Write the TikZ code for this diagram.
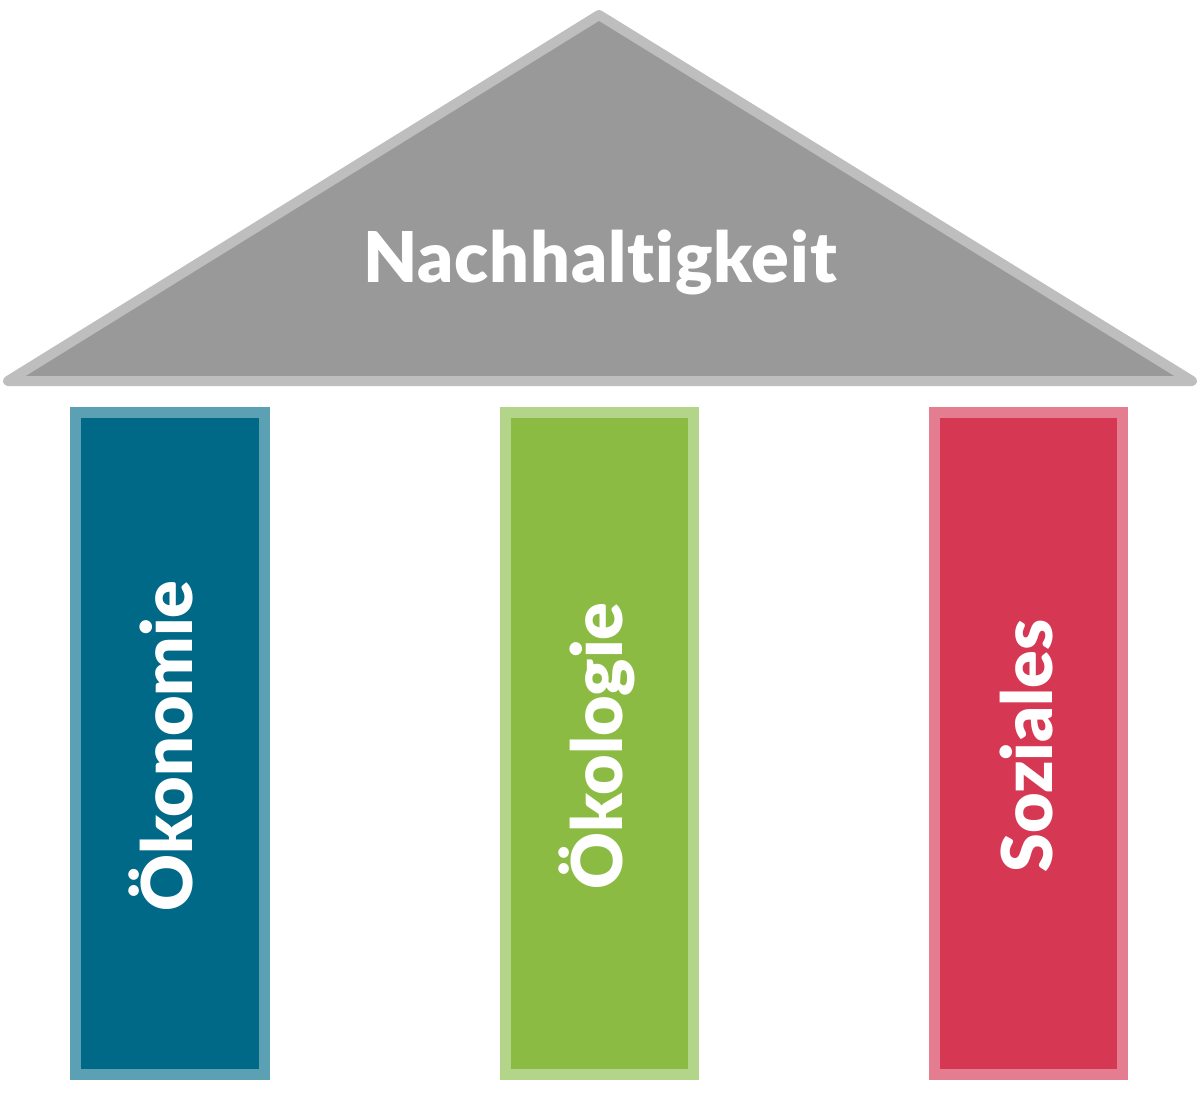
\documentclass[tikz,border=0pt]{standalone}
\usepackage{fontspec}
\setmainfont{Lato}[UprightFont=* Black, Ligatures={NoCommon}]
\newfontfamily\titlefont{Lato}[UprightFont=* Black, Ligatures={NoCommon}, LetterSpace=1.3]
\definecolor{roofFill}{HTML}{999999}
\definecolor{roofLine}{HTML}{BEBEBE}
\definecolor{ecoFill}{HTML}{006987}
\definecolor{ecoLine}{HTML}{5CA0B4}
\definecolor{oekoFill}{HTML}{8BBB42}
\definecolor{oekoLine}{HTML}{B3D58A}
\definecolor{socFill}{HTML}{D63753}
\definecolor{socLine}{HTML}{E57D91}
\tikzset{
  pillar/.style={line width=11pt},
  ptext/.style={text=white, font=\fontsize{70}{80}\selectfont, rotate=90, anchor=base, inner sep=0pt},
}
\begin{document}
\begin{tikzpicture}[x=1pt,y=-1pt]
\useasboundingbox (0,0) rectangle (1200,1105);
\coordinate (apex) at (599,15);
\coordinate (bl) at (8,381);
\coordinate (br) at (1192,381);
\filldraw[fill=roofFill, draw=roofLine, line width=10pt, line join=round] (apex) -- (br) -- (bl) -- cycle;
\node[text=white, font=\titlefont\fontsize{70}{80}\selectfont, anchor=base, inner sep=0pt] (roof) at (600,282) {Nachhaltigkeit};
\filldraw[pillar, fill=ecoFill, draw=ecoLine] (75.5,412.5) rectangle (264.5,1074.5);
\filldraw[pillar, fill=oekoFill, draw=oekoLine] (505.5,412.5) rectangle (693.5,1074.5);
\filldraw[pillar, fill=socFill, draw=socLine] (934.5,412.5) rectangle (1122.5,1074.5);
\node[ptext] (oek) at (192,746) {Ökonomie};
\node[ptext] (oko) at (622,746) {Ökologie};
\node[ptext] (soz) at (1052,746) {Soziales};
\end{tikzpicture}
\end{document}
